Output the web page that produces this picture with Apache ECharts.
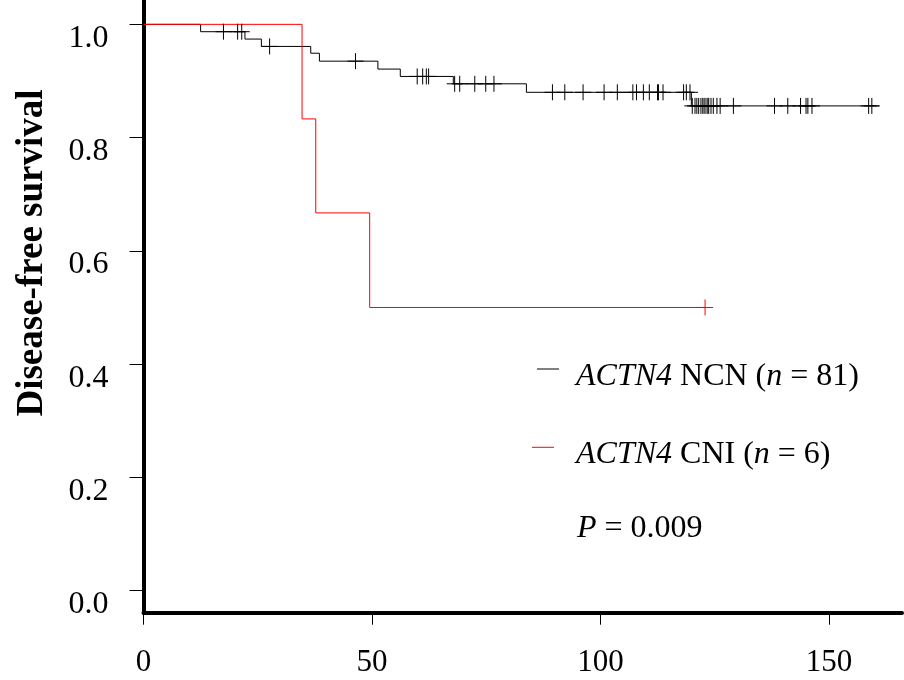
<!DOCTYPE html>
<html>
<head>
<meta charset="utf-8">
<script src="https://cdn.jsdelivr.net/npm/echarts@6/dist/echarts.min.js"></script>
<style>html,body{margin:0;padding:0;background:#fff;}#c{width:904px;height:680px;}</style>
</head>
<body>
<div id="c"></div>
<script>
// Black group (ACTN4 NCN): step times and survival after each step
var ncnTimes = [0, 12.5, 22.2, 25.8, 36.6, 38.5, 51.3, 56.2, 67.8, 83.8, 119.9, 161.0];
var ncnSurv  = [1.0, 0.987, 0.974, 0.961, 0.949, 0.935, 0.921, 0.908, 0.895, 0.880, 0.856, 0.856];
var ncnCensor = [17.5, 20.6, 21.5, 27.6, 46.4, 59.9, 61.1, 61.9, 62.4, 68.1, 69.2, 72.5, 74.9, 76.7,
  89.5, 92.2, 96.2, 100.8, 103.7, 107.1, 107.9, 109.4, 110.7, 112.5, 112.7, 113.7, 118.2, 118.8, 119.6,
  120.1, 120.7, 121.1, 121.5, 122.0, 122.4, 122.7, 123.1, 123.5, 123.7, 124.2, 124.7, 125.5, 126.2,
  129.1, 138.1, 141.0, 143.8, 145.0, 145.4, 146.3, 158.7, 159.4];
// Red group (ACTN4 CNI)
var cniTimes = [0, 34.7, 37.7, 49.5, 122.9];
var cniSurv  = [1.0, 0.833, 0.667, 0.5, 0.5];
var cniCensor = [122.9];

var xTicks = [0, 50, 100, 150];
var yTicks = [0, 0.2, 0.4, 0.6, 0.8, 1.0];

function survAt(times, surv, t) {
  var s = surv[0];
  for (var i = 0; i < times.length; i++) { if (times[i] <= t) s = surv[i]; }
  return s;
}
function pairs(a, b) { return a.map(function (v, i) { return [v, b[i]]; }); }
function censorData(c, times, surv) { return c.map(function (t) { return [t, survAt(times, surv, t)]; }); }

function plusSeries(data, color) {
  return {
    type: 'custom', data: data, silent: true, z: 5,
    renderItem: function (params, api) {
      var p = api.coord([api.value(0), api.value(1)]);
      var h = 8;
      return { type: 'group', children: [
        { type: 'line', shape: { x1: p[0] - h, y1: p[1], x2: p[0] + h, y2: p[1] }, style: { stroke: color, lineWidth: 1 } },
        { type: 'line', shape: { x1: p[0], y1: p[1] - h, x2: p[0], y2: p[1] + h }, style: { stroke: color, lineWidth: 1 } }
      ]};
    }
  };
}

var serif = '"Liberation Serif", "DejaVu Serif", serif';
var rich = { i: { fontStyle: 'italic', fontFamily: serif, fontSize: 32, fill: '#000' } };
var chart = echarts.init(document.getElementById('c'), null, { renderer: 'canvas' });
chart.setOption({
  animation: false,
  backgroundColor: '#fff',
  grid: { left: 143.5, right: 2, top: 0, bottom: 67.3, containLabel: false, outerBoundsMode: 'none' },
  xAxis: {
    type: 'value', min: 0, max: 166,
    splitLine: { show: false },
    axisLine: { show: true, onZero: false, lineStyle: { color: '#000', width: 4 } },
    axisTick: { show: true, length: 12, customValues: xTicks, lineStyle: { color: '#000', width: 1 } },
    axisLabel: { customValues: xTicks, margin: 35, color: '#000', fontFamily: serif, fontSize: 31 }
  },
  yAxis: {
    type: 'value', min: -0.039, max: 1.043,
    splitLine: { show: false },
    axisLine: { show: true, onZero: false, lineStyle: { color: '#000', width: 4 } },
    axisTick: { show: true, length: 14, customValues: yTicks, lineStyle: { color: '#000', width: 1 } },
    axisLabel: { customValues: yTicks, margin: 35, color: '#000', fontFamily: serif, fontSize: 32,
      verticalAlign: 'top', lineHeight: 28, formatter: function (v) { return v.toFixed(1); } }
  },
  series: [
    { type: 'line', step: 'end', showSymbol: false, data: pairs(ncnTimes, ncnSurv),
      lineStyle: { color: '#000', width: 1 }, z: 3 },
    { type: 'line', step: 'end', showSymbol: false, data: pairs(cniTimes, cniSurv),
      lineStyle: { color: '#ff0000', width: 1 }, z: 4 },
    plusSeries(censorData(ncnCensor, ncnTimes, ncnSurv), '#000'),
    plusSeries(censorData(cniCensor, cniTimes, cniSurv), '#ff0000')
  ],
  graphic: [
    { type: 'text', x: 32, y: 253, rotation: Math.PI / 2, style: {
        text: 'Disease-free survival', fill: '#000', font: 'bold 37px ' + serif, align: 'center', verticalAlign: 'middle' } },
    { type: 'line', shape: { x1: 537, y1: 369, x2: 559, y2: 369 }, style: { stroke: '#000', lineWidth: 1 } },
    { type: 'line', shape: { x1: 532, y1: 447.3, x2: 554, y2: 447.3 }, style: { stroke: '#ff0000', lineWidth: 1 } },
    { type: 'text', x: 576, y: 377, style: {
        text: '{i|ACTN4} NCN ({i|n} = 81)', fill: '#000', font: '32px ' + serif, verticalAlign: 'middle', rich: rich } },
    { type: 'text', x: 576, y: 455, style: {
        text: '{i|ACTN4} CNI ({i|n} = 6)', fill: '#000', font: '32px ' + serif, verticalAlign: 'middle', rich: rich } },
    { type: 'text', x: 577, y: 529, style: {
        text: '{i|P} = 0.009', fill: '#000', font: '32px ' + serif, verticalAlign: 'middle', rich: rich } }
  ]
});
</script>
</body>
</html>
